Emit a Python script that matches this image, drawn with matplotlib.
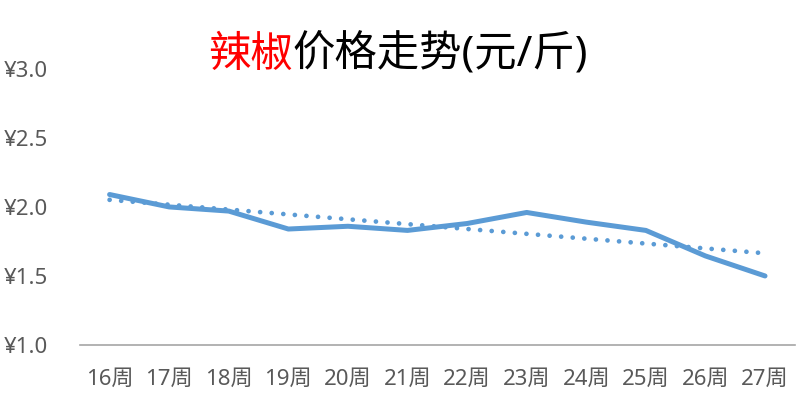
import numpy as np
import matplotlib
matplotlib.use('Agg')
import matplotlib.pyplot as plt

plt.rcParams['font.family'] = ['Noto Sans', 'Noto Sans CJK SC', 'DejaVu Sans']

weeks = ["16周", "17周", "18周", "19周", "20周", "21周",
         "22周", "23周", "24周", "25周", "26周", "27周"]
prices = [2.09, 2.00, 1.97, 1.84, 1.86, 1.83, 1.88, 1.96, 1.89, 1.83, 1.645, 1.50]
y_ticks = [1.0, 1.5, 2.0, 2.5, 3.0]

blue = "#5B9BD5"
grey = "#595959"

fig = plt.figure(figsize=(7.98, 4.03), dpi=100)
ax = fig.add_axes([0.100, 0.144, 0.896, 0.685])

x = np.arange(len(weeks))
ax.plot(x, prices, color=blue, linewidth=3.6, solid_joinstyle="round", solid_capstyle="round")

# linear trend line, like Excel's
slope, icpt = np.polyfit(x, prices, 1)
ax.plot(x, slope * x + icpt, color=blue, linewidth=3.4,
        linestyle=(0, (0.01, 2.45)), dash_capstyle="round")

ax.set_xlim(-0.5, len(weeks) - 0.5)
ax.set_ylim(1.0, 3.0)
ax.set_xticks(x)
ax.set_xticklabels(weeks)
ax.set_yticks(y_ticks)
ax.set_yticklabels([f"¥{v:.1f}" for v in y_ticks])
ax.tick_params(axis="x", length=0, pad=17, labelsize=16, labelcolor=grey)
ax.tick_params(axis="y", length=0, pad=23, labelsize=16, labelcolor=grey)

for s in ["top", "right", "left"]:
    ax.spines[s].set_visible(False)
ax.spines["bottom"].set_color("#A6A6A6")
ax.spines["bottom"].set_linewidth(1.2)

t1 = fig.text(208 / 798, 0.862, "辣椒", color="red", fontsize=30.5,
              ha="left", va="center")
ax.annotate("价格走势(元/斤)", xy=(1, 0.5), xycoords=t1, color="black",
            fontsize=30.5, ha="left", va="center", annotation_clip=False)

fig.savefig("out.png", dpi=100)
